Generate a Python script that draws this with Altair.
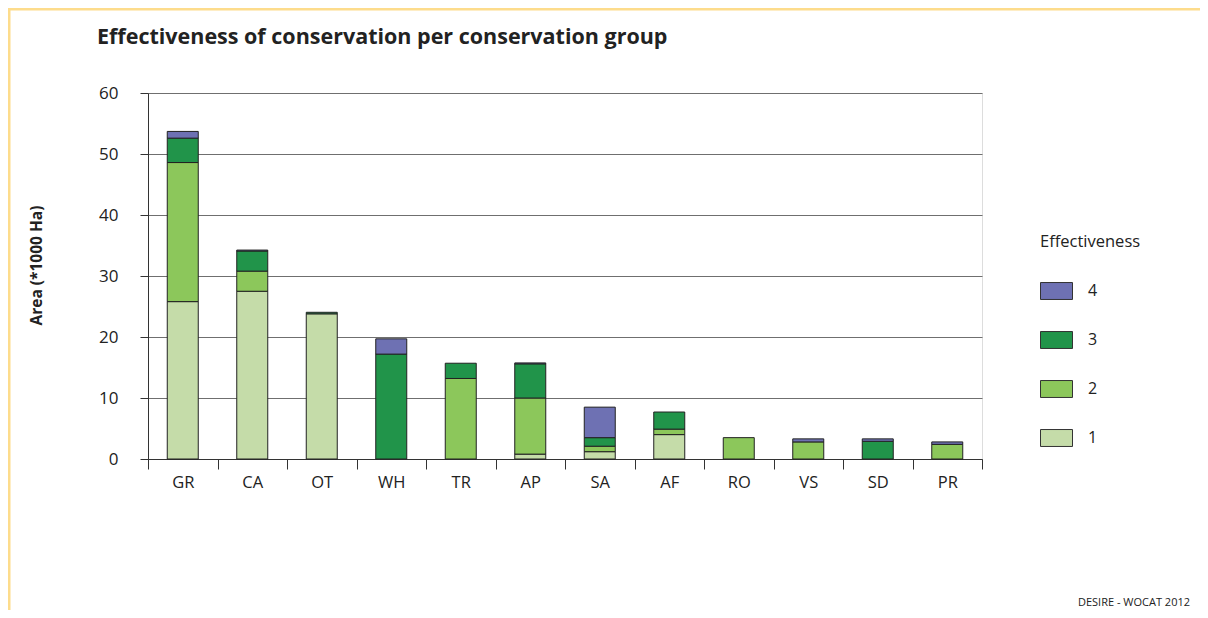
import altair as alt
import pandas as pd

categories = ["GR", "CA", "OT", "WH", "TR", "AP", "SA", "AF", "RO", "VS", "SD", "PR"]
eff_1 = [25.8, 27.5, 23.8, 0, 0, 0.8, 1.2, 4.0, 0, 0, 0, 0]
eff_2 = [22.8, 3.3, 0, 0, 13.2, 9.2, 0.9, 0.9, 3.5, 2.8, 0, 2.4]
eff_3 = [4.0, 3.3, 0.25, 17.2, 2.5, 5.6, 1.4, 2.8, 0, 0, 2.9, 0]
eff_4 = [1.1, 0.15, 0, 2.5, 0, 0.15, 5.0, 0, 0, 0.5, 0.4, 0.4]
levels = ["4", "3", "2", "1"]
colors = ["#6e71b3", "#21944a", "#8cc75b", "#c5dca9"]
y_ticks = [0, 10, 20, 30, 40, 50, 60]

title = "Effectiveness of conservation per conservation group"
y_title = "Area (*1000 Ha)"
legend_title = "Effectiveness"
footer = "DESIRE - WOCAT 2012"

rows = []
for lvl, series in (("1", eff_1), ("2", eff_2), ("3", eff_3), ("4", eff_4)):
    for c, v in zip(categories, series):
        if v > 0:
            rows.append({"group": c, "level": lvl, "order": int(lvl), "area": v})
df = pd.DataFrame(rows)

FONT = "Open Sans"
W, H = 834, 366
PL, PT = 140, 85

bars = alt.Chart(df).mark_bar(size=31, stroke="#222222", strokeWidth=1).encode(
    x=alt.X("group:N", sort=categories,
            scale=alt.Scale(paddingInner=0, paddingOuter=0),
            axis=alt.Axis(title=None, labelAngle=0, tickBand="extent", tickSize=10,
                          tickColor="#333333", domainColor="#333333", labelFontSize=16.5,
                          labelColor="#222222", labelFont=FONT, labelPadding=5,
                          grid=False)),
    y=alt.Y("area:Q", stack="zero",
            scale=alt.Scale(domain=[0, 60], nice=False),
            axis=alt.Axis(values=y_ticks, title=y_title, titleFont=FONT, titleFontSize=15.5,
                          titleFontWeight="bold", titleColor="#222222", titlePadding=54,
                          titleY=172,
                          labelFont=FONT, labelFontSize=17, labelColor="#222222",
                          labelPadding=22, tickSize=8, tickColor="#333333",
                          domainColor="#333333", gridColor="#6f6f6f", gridWidth=1.2)),
    color=alt.Color("level:N", scale=alt.Scale(domain=levels, range=colors),
                    legend=alt.Legend(title=legend_title, orient="none", legendX=892,
                                      legendY=141, titleFont=FONT, titleFontSize=16.5,
                                      titleFontWeight="normal", titleColor="#222222",
                                      labelFont=FONT, labelFontSize=16, labelColor="#222222",
                                      symbolType="M-1,-0.53H1V0.53H-1Z", symbolSize=1024,
                                      symbolStrokeColor="#333333", symbolStrokeWidth=1,
                                      symbolOpacity=1, rowPadding=22, titlePadding=24,
                                      labelOffset=15)),
    order=alt.Order("order:Q", sort="ascending"),
)

frame_top = alt.Chart(pd.DataFrame({"a": [0]})).mark_rule(color="#fddc8c", strokeWidth=3).encode(
    x=alt.value(-PL), x2=alt.value(1192 - PL), y=alt.value(-PT + 1))
frame_left = alt.Chart(pd.DataFrame({"a": [0]})).mark_rule(color="#fddc8c", strokeWidth=3).encode(
    x=alt.value(-PL + 1), y=alt.value(-PT), y2=alt.value(602 - PT))

title_text = alt.Chart(pd.DataFrame({"t": [title]})).mark_text(
    font=FONT, fontSize=21.5, fontWeight="bold", color="#222222", align="left", baseline="middle"
).encode(x=alt.value(97 - 148), y=alt.value(38 - 93), text="t:N")

footer_text = alt.Chart(pd.DataFrame({"t": [footer]})).mark_text(
    font=FONT, fontSize=11, color="#222222", align="right", baseline="middle"
).encode(x=alt.value(1190 - 148), y=alt.value(603 - 93), text="t:N")

chart = alt.layer(frame_top, frame_left, bars, title_text, footer_text).properties(
    width=W, height=H,
    autosize=alt.AutoSizeParams(type="none"),
    padding={"left": PL, "top": PT, "right": 1192 - PL - W, "bottom": 602 - PT - H},
).configure_view(stroke="transparent", strokeWidth=0).configure(background="white")

chart.save("out.html", embed_options={"renderer": "svg", "actions": False})
